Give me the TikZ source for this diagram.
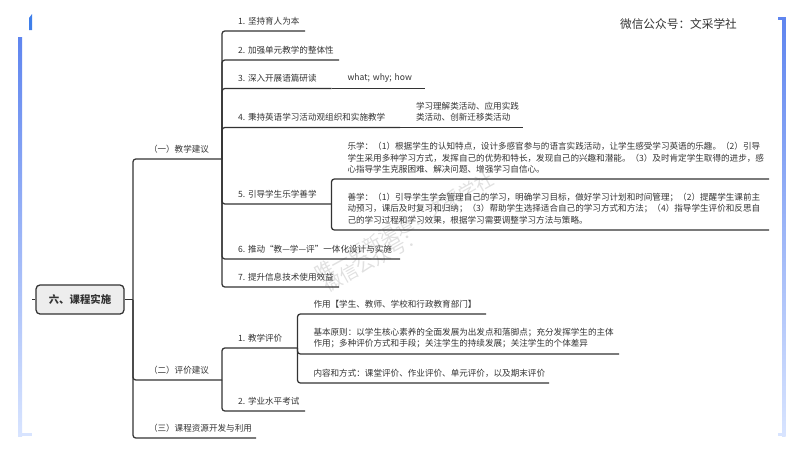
\documentclass[tikz,border=0pt]{standalone}
\usepackage{fontspec}
\setmainfont{Noto Sans CJK SC}
\definecolor{ink}{HTML}{333333}
\definecolor{barTop}{HTML}{5F85EF}
\definecolor{barLow}{HTML}{D8E4FF}
\definecolor{barTip}{HTML}{3F7FEA}
\definecolor{stamp}{HTML}{E0E0E0}
\tikzset{
  twig/.style={anchor=south west, inner xsep=0.4cm, inner ysep=0.15cm, outer sep=0pt, text width=#1, align=left, text=ink, font=\fontsize{6.1}{8}\selectfont},
  link/.style={draw=ink, line width=0.9pt, rounded corners=2pt},
  stampText/.style={text=stamp, rotate=29, font=\fontsize{13}{15}\selectfont}
}
\begin{document}
\begin{tikzpicture}[x=0.025cm, y=-0.025cm]
\useasboundingbox (0,0) rectangle (800,450);

% frame
\shade[top color=barTop, bottom color=barLow] (18,37) rectangle (22,436);
\fill[barLow] (18,433) rectangle (32,436);
\fill[barTip] (29,18) -- (32,14) -- (32,30) -- (29,30) -- cycle;
\shade[top color=barTop, bottom color=barLow] (782,17) rectangle (785.5,436);
\fill[barTop] (778,17) rectangle (785.5,20);
\fill[barLow] (778,433) rectangle (785.5,436);

% watermark
\node[stampText] (stampA) at (404,226) {唯一更新渠道：文采学社};
\node[stampText] (stampB) at (373,260) {微信公众号：};

\node[text=ink, font=\fontsize{8.3}{10}\selectfont] (account) at (678.5,24) {微信公众号：文采学社};

% root
\node[draw=ink, line width=0.9pt, fill=black!7, rounded corners=3pt, minimum width=2.2cm, minimum height=0.73cm, inner sep=0pt, text=ink, font=\fontsize{7.4}{9}\selectfont\bfseries] (root) at (80,299.5) {六、课程实施};
\coordinate (stub) at (32,299.5);
\coordinate (hub) at (133,299.5);

% first level
\node[twig=1.425cm] (teach) at (133,159) {（一）教学建议};
\node[twig=1.425cm] (assess) at (133,380) {（二）评价建议};
\node[twig=2.275cm] (source) at (133,438) {（三）课程资源开发与利用};

% teaching items
\node[twig=1.275cm] (itemA) at (222,31) {1.~坚持育人为本};
\node[twig=2.125cm] (itemB) at (222,60) {2.~加强单元教学的整体性};
\node[twig=1.9375cm] (itemC) at (222,88.5) {3.~深入开展语篇研读};
\node[twig=1.5375cm] (why) at (331.5,88.5) {what;~why;~how};
\node[twig=3.65cm] (itemD) at (222,127.5) {4.~秉持英语学习活动观组织和实施教学};
\node[twig=2.275cm] (act) at (400,127.5) {学习理解类活动、应用实践\\类活动、创新迁移类活动};
\node[twig=1.9375cm] (itemE) at (222,204) {5.~引导学生乐学善学};
\node[twig=10.1375cm] (happy) at (331.5,179) {乐学：（1）根据学生的认知特点，设计多感官参与的语言实践活动，让学生感受学习英语的乐趣。（2）引导\\学生采用多种学习方式，发挥自己的优势和特长，发现自己的兴趣和潜能。（3）及时肯定学生取得的进步，感\\心指导学生克服困难、解决问题、增强学习自信心。};
\node[twig=10.1375cm] (good) at (331.5,230) {善学：（1）引导学生学会管理自己的学习，明确学习目标，做好学习计划和时间管理；（2）提醒学生课前主\\动预习，课后及时复习和归纳；（3）帮助学生选择适合自己的学习方式和方法；（4）指导学生评价和反思自\\己的学习过程和学习效果，根据学习需要调整学习方法与策略。};
\node[twig=3.65cm] (itemF) at (222,259) {\mbox{6.~推动“教—学—评”一体化设计与实施}};
\node[twig=2.125cm] (itemG) at (222,287) {7.~提升信息技术使用效益};

% assessment items
\node[twig=1.0875cm] (evalA) at (222,348) {1.~教学评价};
\node[twig=1.275cm] (exam) at (222,411) {2.~学业水平考试};
\node[twig=3.9125cm] (role) at (297.5,314) {作用【学生、教师、学校和行政教育部门】};
\node[twig=7.2375cm] (rule) at (297.5,354) {基本原则：以学生核心素养的全面发展为出发点和落脚点；充分发挥学生的主体\\作用；多种评价方式和手段；关注学生的持续发展；关注学生的个体差异};
\node[twig=5.4875cm] (form) at (297.5,383) {内容和方式：课堂评价、作业评价、单元评价，以及期末评价};

% connectors
\draw[link] (stub) -- (root.west);
\draw[link] (root.east) -- (hub);
\draw[link] (hub) |- (teach.south east);
\draw[link] (hub) |- (assess.south east);
\draw[link] (hub) |- (source.south east);

\draw[link] (teach.south east) |- (itemA.south east);
\draw[link] (teach.south east) |- (itemB.south east);
\draw[link] (teach.south east) |- (itemC.south east);
\draw[link] (teach.south east) |- (itemD.south east);
\draw[link] (teach.south east) |- (itemE.south east);
\draw[link] (teach.south east) |- (itemF.south east);
\draw[link] (teach.south east) |- (itemG.south east);
\draw[link] (itemC.south east) -- (why.south east);
\draw[link] (itemD.south east) -- (act.south east);
\draw[link] (itemE.south east) |- (happy.south east);
\draw[link] (itemE.south east) |- (good.south east);

\draw[link] (assess.south east) |- (evalA.south east);
\draw[link] (assess.south east) |- (exam.south east);
\draw[link] (evalA.south east) |- (role.south east);
\draw[link] (evalA.south east) |- (rule.south east);
\draw[link] (evalA.south east) |- (form.south east);
\end{tikzpicture}
\end{document}
